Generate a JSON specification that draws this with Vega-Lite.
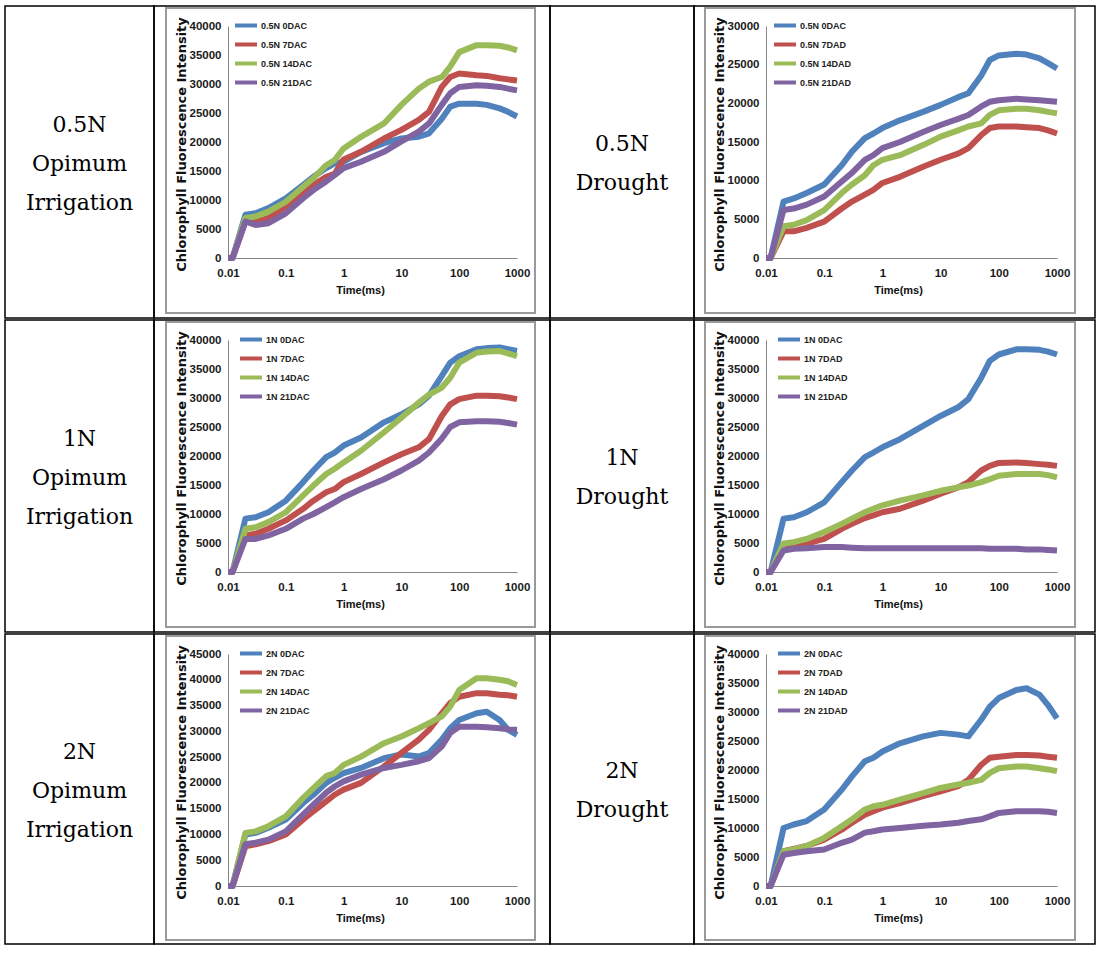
{
"$schema":"https://vega.github.io/schema/vega-lite/v6.json",
"padding":{"left":4,"top":5,"right":0,"bottom":0},
"background":"white",
"config":{
"view":{"stroke":"black","strokeWidth":1.5},
"axis":{"domainColor":"#868686","domainWidth":1,"ticks":false,"grid":false,"labelFont":"Liberation Sans, Arial, sans-serif","labelFontSize":11.5,"labelFontWeight":"bold","labelColor":"#1a1a1a","labelFlush":false,"labelOverlap":false,"labelBound":false,"titleFont":"Liberation Sans, Arial, sans-serif","titleFontSize":11,"titleFontWeight":"bold","titleColor":"#111111"},
"axisY":{"labelPadding":7,"titleFont":"DejaVu Sans","titleFontSize":13,"titleBaseline":"middle","titleAlign":"center"},
"axisX":{"labelPadding":9,"titleBaseline":"middle","titleAlign":"center"},
"legend":{"symbolType":"stroke","symbolStrokeWidth":4,"symbolSize":484,"labelFont":"Liberation Sans, Arial, sans-serif","labelFontSize":9,"labelFontWeight":"bold","labelColor":"#222222","rowPadding":0,"clipHeight":19,"padding":0,"labelOffset":2}
},
"datasets":{
"A":[
{"t":0.01,"v":0,"s":"0.5N 0DAC"},{"t":0.012,"v":0,"s":"0.5N 0DAC"},{"t":0.02,"v":7450,"s":"0.5N 0DAC"},{"t":0.03,"v":7700,"s":"0.5N 0DAC"},{"t":0.05,"v":8600,"s":"0.5N 0DAC"},{"t":0.1,"v":10300,"s":"0.5N 0DAC"},{"t":0.2,"v":12600,"s":"0.5N 0DAC"},{"t":0.3,"v":14000,"s":"0.5N 0DAC"},{"t":0.5,"v":15500,"s":"0.5N 0DAC"},{"t":0.7,"v":16300,"s":"0.5N 0DAC"},{"t":1,"v":16600,"s":"0.5N 0DAC"},{"t":2,"v":18300,"s":"0.5N 0DAC"},{"t":5,"v":19800,"s":"0.5N 0DAC"},{"t":10,"v":20600,"s":"0.5N 0DAC"},{"t":20,"v":20900,"s":"0.5N 0DAC"},{"t":30,"v":21500,"s":"0.5N 0DAC"},{"t":50,"v":24000,"s":"0.5N 0DAC"},{"t":70,"v":26100,"s":"0.5N 0DAC"},{"t":100,"v":26600,"s":"0.5N 0DAC"},{"t":200,"v":26600,"s":"0.5N 0DAC"},{"t":300,"v":26400,"s":"0.5N 0DAC"},{"t":500,"v":25800,"s":"0.5N 0DAC"},{"t":700,"v":25200,"s":"0.5N 0DAC"},{"t":1000,"v":24400,"s":"0.5N 0DAC"},
{"t":0.01,"v":0,"s":"0.5N 7DAC"},{"t":0.012,"v":0,"s":"0.5N 7DAC"},{"t":0.02,"v":6300,"s":"0.5N 7DAC"},{"t":0.03,"v":6200,"s":"0.5N 7DAC"},{"t":0.05,"v":6900,"s":"0.5N 7DAC"},{"t":0.1,"v":8900,"s":"0.5N 7DAC"},{"t":0.2,"v":11500,"s":"0.5N 7DAC"},{"t":0.3,"v":12600,"s":"0.5N 7DAC"},{"t":0.5,"v":14000,"s":"0.5N 7DAC"},{"t":0.7,"v":14500,"s":"0.5N 7DAC"},{"t":1,"v":17000,"s":"0.5N 7DAC"},{"t":2,"v":18300,"s":"0.5N 7DAC"},{"t":5,"v":20600,"s":"0.5N 7DAC"},{"t":10,"v":22100,"s":"0.5N 7DAC"},{"t":20,"v":23800,"s":"0.5N 7DAC"},{"t":30,"v":25200,"s":"0.5N 7DAC"},{"t":50,"v":29500,"s":"0.5N 7DAC"},{"t":70,"v":31200,"s":"0.5N 7DAC"},{"t":100,"v":31800,"s":"0.5N 7DAC"},{"t":200,"v":31500,"s":"0.5N 7DAC"},{"t":300,"v":31400,"s":"0.5N 7DAC"},{"t":500,"v":31000,"s":"0.5N 7DAC"},{"t":700,"v":30800,"s":"0.5N 7DAC"},{"t":1000,"v":30600,"s":"0.5N 7DAC"},
{"t":0.01,"v":0,"s":"0.5N 14DAC"},{"t":0.012,"v":0,"s":"0.5N 14DAC"},{"t":0.02,"v":6900,"s":"0.5N 14DAC"},{"t":0.03,"v":7150,"s":"0.5N 14DAC"},{"t":0.05,"v":8000,"s":"0.5N 14DAC"},{"t":0.1,"v":9700,"s":"0.5N 14DAC"},{"t":0.2,"v":12300,"s":"0.5N 14DAC"},{"t":0.3,"v":13750,"s":"0.5N 14DAC"},{"t":0.5,"v":16000,"s":"0.5N 14DAC"},{"t":0.7,"v":16900,"s":"0.5N 14DAC"},{"t":1,"v":18900,"s":"0.5N 14DAC"},{"t":2,"v":20900,"s":"0.5N 14DAC"},{"t":5,"v":23200,"s":"0.5N 14DAC"},{"t":10,"v":26400,"s":"0.5N 14DAC"},{"t":20,"v":29200,"s":"0.5N 14DAC"},{"t":30,"v":30400,"s":"0.5N 14DAC"},{"t":50,"v":31200,"s":"0.5N 14DAC"},{"t":70,"v":33000,"s":"0.5N 14DAC"},{"t":100,"v":35500,"s":"0.5N 14DAC"},{"t":200,"v":36700,"s":"0.5N 14DAC"},{"t":300,"v":36700,"s":"0.5N 14DAC"},{"t":500,"v":36600,"s":"0.5N 14DAC"},{"t":700,"v":36300,"s":"0.5N 14DAC"},{"t":1000,"v":35800,"s":"0.5N 14DAC"},
{"t":0.01,"v":0,"s":"0.5N 21DAC"},{"t":0.012,"v":0,"s":"0.5N 21DAC"},{"t":0.02,"v":6300,"s":"0.5N 21DAC"},{"t":0.03,"v":5700,"s":"0.5N 21DAC"},{"t":0.05,"v":6000,"s":"0.5N 21DAC"},{"t":0.1,"v":7700,"s":"0.5N 21DAC"},{"t":0.2,"v":10300,"s":"0.5N 21DAC"},{"t":0.3,"v":11700,"s":"0.5N 21DAC"},{"t":0.5,"v":13200,"s":"0.5N 21DAC"},{"t":0.7,"v":14300,"s":"0.5N 21DAC"},{"t":1,"v":15500,"s":"0.5N 21DAC"},{"t":2,"v":16600,"s":"0.5N 21DAC"},{"t":5,"v":18300,"s":"0.5N 21DAC"},{"t":10,"v":20100,"s":"0.5N 21DAC"},{"t":20,"v":21800,"s":"0.5N 21DAC"},{"t":30,"v":23200,"s":"0.5N 21DAC"},{"t":50,"v":26400,"s":"0.5N 21DAC"},{"t":70,"v":28400,"s":"0.5N 21DAC"},{"t":100,"v":29500,"s":"0.5N 21DAC"},{"t":200,"v":29800,"s":"0.5N 21DAC"},{"t":300,"v":29700,"s":"0.5N 21DAC"},{"t":500,"v":29500,"s":"0.5N 21DAC"},{"t":700,"v":29200,"s":"0.5N 21DAC"},{"t":1000,"v":28900,"s":"0.5N 21DAC"}
],
"B":[
{"t":0.01,"v":0,"s":"0.5N 0DAC"},{"t":0.012,"v":0,"s":"0.5N 0DAC"},{"t":0.02,"v":7300,"s":"0.5N 0DAC"},{"t":0.03,"v":7700,"s":"0.5N 0DAC"},{"t":0.05,"v":8400,"s":"0.5N 0DAC"},{"t":0.1,"v":9500,"s":"0.5N 0DAC"},{"t":0.2,"v":12000,"s":"0.5N 0DAC"},{"t":0.3,"v":13750,"s":"0.5N 0DAC"},{"t":0.5,"v":15500,"s":"0.5N 0DAC"},{"t":0.7,"v":16100,"s":"0.5N 0DAC"},{"t":1,"v":16800,"s":"0.5N 0DAC"},{"t":2,"v":17800,"s":"0.5N 0DAC"},{"t":5,"v":18900,"s":"0.5N 0DAC"},{"t":10,"v":19800,"s":"0.5N 0DAC"},{"t":20,"v":20800,"s":"0.5N 0DAC"},{"t":30,"v":21300,"s":"0.5N 0DAC"},{"t":50,"v":23600,"s":"0.5N 0DAC"},{"t":70,"v":25600,"s":"0.5N 0DAC"},{"t":100,"v":26200,"s":"0.5N 0DAC"},{"t":200,"v":26400,"s":"0.5N 0DAC"},{"t":300,"v":26300,"s":"0.5N 0DAC"},{"t":500,"v":25800,"s":"0.5N 0DAC"},{"t":700,"v":25200,"s":"0.5N 0DAC"},{"t":1000,"v":24500,"s":"0.5N 0DAC"},
{"t":0.01,"v":0,"s":"0.5N 7DAD"},{"t":0.012,"v":0,"s":"0.5N 7DAD"},{"t":0.02,"v":3450,"s":"0.5N 7DAD"},{"t":0.03,"v":3450,"s":"0.5N 7DAD"},{"t":0.05,"v":3900,"s":"0.5N 7DAD"},{"t":0.1,"v":4700,"s":"0.5N 7DAD"},{"t":0.2,"v":6400,"s":"0.5N 7DAD"},{"t":0.3,"v":7300,"s":"0.5N 7DAD"},{"t":0.5,"v":8200,"s":"0.5N 7DAD"},{"t":0.7,"v":8800,"s":"0.5N 7DAD"},{"t":1,"v":9700,"s":"0.5N 7DAD"},{"t":2,"v":10500,"s":"0.5N 7DAD"},{"t":5,"v":11800,"s":"0.5N 7DAD"},{"t":10,"v":12700,"s":"0.5N 7DAD"},{"t":20,"v":13500,"s":"0.5N 7DAD"},{"t":30,"v":14200,"s":"0.5N 7DAD"},{"t":50,"v":15900,"s":"0.5N 7DAD"},{"t":70,"v":16800,"s":"0.5N 7DAD"},{"t":100,"v":17000,"s":"0.5N 7DAD"},{"t":200,"v":17000,"s":"0.5N 7DAD"},{"t":300,"v":16900,"s":"0.5N 7DAD"},{"t":500,"v":16800,"s":"0.5N 7DAD"},{"t":700,"v":16500,"s":"0.5N 7DAD"},{"t":1000,"v":16100,"s":"0.5N 7DAD"},
{"t":0.01,"v":0,"s":"0.5N 14DAD"},{"t":0.012,"v":0,"s":"0.5N 14DAD"},{"t":0.02,"v":4100,"s":"0.5N 14DAD"},{"t":0.03,"v":4300,"s":"0.5N 14DAD"},{"t":0.05,"v":4900,"s":"0.5N 14DAD"},{"t":0.1,"v":6200,"s":"0.5N 14DAD"},{"t":0.2,"v":8400,"s":"0.5N 14DAD"},{"t":0.3,"v":9500,"s":"0.5N 14DAD"},{"t":0.5,"v":10700,"s":"0.5N 14DAD"},{"t":0.7,"v":12000,"s":"0.5N 14DAD"},{"t":1,"v":12700,"s":"0.5N 14DAD"},{"t":2,"v":13300,"s":"0.5N 14DAD"},{"t":5,"v":14600,"s":"0.5N 14DAD"},{"t":10,"v":15700,"s":"0.5N 14DAD"},{"t":20,"v":16500,"s":"0.5N 14DAD"},{"t":30,"v":17000,"s":"0.5N 14DAD"},{"t":50,"v":17400,"s":"0.5N 14DAD"},{"t":70,"v":18500,"s":"0.5N 14DAD"},{"t":100,"v":19100,"s":"0.5N 14DAD"},{"t":200,"v":19300,"s":"0.5N 14DAD"},{"t":300,"v":19300,"s":"0.5N 14DAD"},{"t":500,"v":19100,"s":"0.5N 14DAD"},{"t":700,"v":18900,"s":"0.5N 14DAD"},{"t":1000,"v":18700,"s":"0.5N 14DAD"},
{"t":0.01,"v":0,"s":"0.5N 21DAD"},{"t":0.012,"v":0,"s":"0.5N 21DAD"},{"t":0.02,"v":6200,"s":"0.5N 21DAD"},{"t":0.03,"v":6400,"s":"0.5N 21DAD"},{"t":0.05,"v":6900,"s":"0.5N 21DAD"},{"t":0.1,"v":7950,"s":"0.5N 21DAD"},{"t":0.2,"v":9900,"s":"0.5N 21DAD"},{"t":0.3,"v":11000,"s":"0.5N 21DAD"},{"t":0.5,"v":12700,"s":"0.5N 21DAD"},{"t":0.7,"v":13300,"s":"0.5N 21DAD"},{"t":1,"v":14200,"s":"0.5N 21DAD"},{"t":2,"v":15000,"s":"0.5N 21DAD"},{"t":5,"v":16300,"s":"0.5N 21DAD"},{"t":10,"v":17200,"s":"0.5N 21DAD"},{"t":20,"v":18000,"s":"0.5N 21DAD"},{"t":30,"v":18500,"s":"0.5N 21DAD"},{"t":50,"v":19600,"s":"0.5N 21DAD"},{"t":70,"v":20200,"s":"0.5N 21DAD"},{"t":100,"v":20400,"s":"0.5N 21DAD"},{"t":200,"v":20600,"s":"0.5N 21DAD"},{"t":300,"v":20500,"s":"0.5N 21DAD"},{"t":500,"v":20400,"s":"0.5N 21DAD"},{"t":700,"v":20300,"s":"0.5N 21DAD"},{"t":1000,"v":20200,"s":"0.5N 21DAD"}
],
"C":[
{"t":0.01,"v":0,"s":"1N 0DAC"},{"t":0.012,"v":0,"s":"1N 0DAC"},{"t":0.02,"v":9200,"s":"1N 0DAC"},{"t":0.03,"v":9450,"s":"1N 0DAC"},{"t":0.05,"v":10300,"s":"1N 0DAC"},{"t":0.1,"v":12300,"s":"1N 0DAC"},{"t":0.2,"v":15500,"s":"1N 0DAC"},{"t":0.3,"v":17500,"s":"1N 0DAC"},{"t":0.5,"v":19800,"s":"1N 0DAC"},{"t":0.7,"v":20600,"s":"1N 0DAC"},{"t":1,"v":21800,"s":"1N 0DAC"},{"t":2,"v":23200,"s":"1N 0DAC"},{"t":5,"v":25800,"s":"1N 0DAC"},{"t":10,"v":27200,"s":"1N 0DAC"},{"t":20,"v":28900,"s":"1N 0DAC"},{"t":30,"v":30400,"s":"1N 0DAC"},{"t":50,"v":33800,"s":"1N 0DAC"},{"t":70,"v":36100,"s":"1N 0DAC"},{"t":100,"v":37200,"s":"1N 0DAC"},{"t":200,"v":38400,"s":"1N 0DAC"},{"t":300,"v":38600,"s":"1N 0DAC"},{"t":500,"v":38700,"s":"1N 0DAC"},{"t":700,"v":38400,"s":"1N 0DAC"},{"t":1000,"v":38100,"s":"1N 0DAC"},
{"t":0.01,"v":0,"s":"1N 7DAC"},{"t":0.012,"v":0,"s":"1N 7DAC"},{"t":0.02,"v":6300,"s":"1N 7DAC"},{"t":0.03,"v":6600,"s":"1N 7DAC"},{"t":0.05,"v":7450,"s":"1N 7DAC"},{"t":0.1,"v":8900,"s":"1N 7DAC"},{"t":0.2,"v":10900,"s":"1N 7DAC"},{"t":0.3,"v":12300,"s":"1N 7DAC"},{"t":0.5,"v":13750,"s":"1N 7DAC"},{"t":0.7,"v":14300,"s":"1N 7DAC"},{"t":1,"v":15500,"s":"1N 7DAC"},{"t":2,"v":16900,"s":"1N 7DAC"},{"t":5,"v":18900,"s":"1N 7DAC"},{"t":10,"v":20300,"s":"1N 7DAC"},{"t":20,"v":21500,"s":"1N 7DAC"},{"t":30,"v":22900,"s":"1N 7DAC"},{"t":50,"v":26900,"s":"1N 7DAC"},{"t":70,"v":28900,"s":"1N 7DAC"},{"t":100,"v":29800,"s":"1N 7DAC"},{"t":200,"v":30400,"s":"1N 7DAC"},{"t":300,"v":30400,"s":"1N 7DAC"},{"t":500,"v":30300,"s":"1N 7DAC"},{"t":700,"v":30100,"s":"1N 7DAC"},{"t":1000,"v":29800,"s":"1N 7DAC"},
{"t":0.01,"v":0,"s":"1N 14DAC"},{"t":0.012,"v":0,"s":"1N 14DAC"},{"t":0.02,"v":7450,"s":"1N 14DAC"},{"t":0.03,"v":7700,"s":"1N 14DAC"},{"t":0.05,"v":8600,"s":"1N 14DAC"},{"t":0.1,"v":10300,"s":"1N 14DAC"},{"t":0.2,"v":13200,"s":"1N 14DAC"},{"t":0.3,"v":14900,"s":"1N 14DAC"},{"t":0.5,"v":16900,"s":"1N 14DAC"},{"t":0.7,"v":17800,"s":"1N 14DAC"},{"t":1,"v":18900,"s":"1N 14DAC"},{"t":2,"v":20900,"s":"1N 14DAC"},{"t":5,"v":24100,"s":"1N 14DAC"},{"t":10,"v":26600,"s":"1N 14DAC"},{"t":20,"v":29200,"s":"1N 14DAC"},{"t":30,"v":30600,"s":"1N 14DAC"},{"t":50,"v":31800,"s":"1N 14DAC"},{"t":70,"v":33500,"s":"1N 14DAC"},{"t":100,"v":36100,"s":"1N 14DAC"},{"t":200,"v":37800,"s":"1N 14DAC"},{"t":300,"v":38000,"s":"1N 14DAC"},{"t":500,"v":38100,"s":"1N 14DAC"},{"t":700,"v":37700,"s":"1N 14DAC"},{"t":1000,"v":37200,"s":"1N 14DAC"},
{"t":0.01,"v":0,"s":"1N 21DAC"},{"t":0.012,"v":0,"s":"1N 21DAC"},{"t":0.02,"v":5700,"s":"1N 21DAC"},{"t":0.03,"v":5700,"s":"1N 21DAC"},{"t":0.05,"v":6300,"s":"1N 21DAC"},{"t":0.1,"v":7450,"s":"1N 21DAC"},{"t":0.2,"v":9200,"s":"1N 21DAC"},{"t":0.3,"v":10000,"s":"1N 21DAC"},{"t":0.5,"v":11200,"s":"1N 21DAC"},{"t":0.7,"v":12000,"s":"1N 21DAC"},{"t":1,"v":12900,"s":"1N 21DAC"},{"t":2,"v":14300,"s":"1N 21DAC"},{"t":5,"v":16000,"s":"1N 21DAC"},{"t":10,"v":17500,"s":"1N 21DAC"},{"t":20,"v":19200,"s":"1N 21DAC"},{"t":30,"v":20600,"s":"1N 21DAC"},{"t":50,"v":23000,"s":"1N 21DAC"},{"t":70,"v":25000,"s":"1N 21DAC"},{"t":100,"v":25800,"s":"1N 21DAC"},{"t":200,"v":26000,"s":"1N 21DAC"},{"t":300,"v":26000,"s":"1N 21DAC"},{"t":500,"v":25900,"s":"1N 21DAC"},{"t":700,"v":25700,"s":"1N 21DAC"},{"t":1000,"v":25400,"s":"1N 21DAC"}
],
"D":[
{"t":0.01,"v":0,"s":"1N 0DAC"},{"t":0.012,"v":0,"s":"1N 0DAC"},{"t":0.02,"v":9200,"s":"1N 0DAC"},{"t":0.03,"v":9450,"s":"1N 0DAC"},{"t":0.05,"v":10300,"s":"1N 0DAC"},{"t":0.1,"v":12000,"s":"1N 0DAC"},{"t":0.2,"v":15500,"s":"1N 0DAC"},{"t":0.3,"v":17500,"s":"1N 0DAC"},{"t":0.5,"v":19800,"s":"1N 0DAC"},{"t":0.7,"v":20600,"s":"1N 0DAC"},{"t":1,"v":21500,"s":"1N 0DAC"},{"t":2,"v":22900,"s":"1N 0DAC"},{"t":5,"v":25200,"s":"1N 0DAC"},{"t":10,"v":26900,"s":"1N 0DAC"},{"t":20,"v":28400,"s":"1N 0DAC"},{"t":30,"v":29800,"s":"1N 0DAC"},{"t":50,"v":33500,"s":"1N 0DAC"},{"t":70,"v":36400,"s":"1N 0DAC"},{"t":100,"v":37500,"s":"1N 0DAC"},{"t":200,"v":38400,"s":"1N 0DAC"},{"t":300,"v":38400,"s":"1N 0DAC"},{"t":500,"v":38300,"s":"1N 0DAC"},{"t":700,"v":38000,"s":"1N 0DAC"},{"t":1000,"v":37500,"s":"1N 0DAC"},
{"t":0.01,"v":0,"s":"1N 7DAD"},{"t":0.012,"v":0,"s":"1N 7DAD"},{"t":0.02,"v":4600,"s":"1N 7DAD"},{"t":0.03,"v":4500,"s":"1N 7DAD"},{"t":0.05,"v":4900,"s":"1N 7DAD"},{"t":0.1,"v":5700,"s":"1N 7DAD"},{"t":0.2,"v":7450,"s":"1N 7DAD"},{"t":0.3,"v":8300,"s":"1N 7DAD"},{"t":0.5,"v":9300,"s":"1N 7DAD"},{"t":0.7,"v":9750,"s":"1N 7DAD"},{"t":1,"v":10300,"s":"1N 7DAD"},{"t":2,"v":10900,"s":"1N 7DAD"},{"t":5,"v":12300,"s":"1N 7DAD"},{"t":10,"v":13500,"s":"1N 7DAD"},{"t":20,"v":14600,"s":"1N 7DAD"},{"t":30,"v":15500,"s":"1N 7DAD"},{"t":50,"v":17500,"s":"1N 7DAD"},{"t":70,"v":18300,"s":"1N 7DAD"},{"t":100,"v":18800,"s":"1N 7DAD"},{"t":200,"v":18900,"s":"1N 7DAD"},{"t":300,"v":18800,"s":"1N 7DAD"},{"t":500,"v":18600,"s":"1N 7DAD"},{"t":700,"v":18500,"s":"1N 7DAD"},{"t":1000,"v":18300,"s":"1N 7DAD"},
{"t":0.01,"v":0,"s":"1N 14DAD"},{"t":0.012,"v":0,"s":"1N 14DAD"},{"t":0.02,"v":4900,"s":"1N 14DAD"},{"t":0.03,"v":5150,"s":"1N 14DAD"},{"t":0.05,"v":5700,"s":"1N 14DAD"},{"t":0.1,"v":6900,"s":"1N 14DAD"},{"t":0.2,"v":8300,"s":"1N 14DAD"},{"t":0.3,"v":9200,"s":"1N 14DAD"},{"t":0.5,"v":10300,"s":"1N 14DAD"},{"t":0.7,"v":10900,"s":"1N 14DAD"},{"t":1,"v":11500,"s":"1N 14DAD"},{"t":2,"v":12300,"s":"1N 14DAD"},{"t":5,"v":13200,"s":"1N 14DAD"},{"t":10,"v":14000,"s":"1N 14DAD"},{"t":20,"v":14600,"s":"1N 14DAD"},{"t":30,"v":14900,"s":"1N 14DAD"},{"t":50,"v":15500,"s":"1N 14DAD"},{"t":70,"v":16000,"s":"1N 14DAD"},{"t":100,"v":16600,"s":"1N 14DAD"},{"t":200,"v":16900,"s":"1N 14DAD"},{"t":300,"v":16900,"s":"1N 14DAD"},{"t":500,"v":16900,"s":"1N 14DAD"},{"t":700,"v":16700,"s":"1N 14DAD"},{"t":1000,"v":16300,"s":"1N 14DAD"},
{"t":0.01,"v":0,"s":"1N 21DAD"},{"t":0.012,"v":0,"s":"1N 21DAD"},{"t":0.02,"v":3700,"s":"1N 21DAD"},{"t":0.03,"v":4000,"s":"1N 21DAD"},{"t":0.05,"v":4100,"s":"1N 21DAD"},{"t":0.1,"v":4300,"s":"1N 21DAD"},{"t":0.2,"v":4300,"s":"1N 21DAD"},{"t":0.3,"v":4200,"s":"1N 21DAD"},{"t":0.5,"v":4100,"s":"1N 21DAD"},{"t":0.7,"v":4100,"s":"1N 21DAD"},{"t":1,"v":4100,"s":"1N 21DAD"},{"t":2,"v":4100,"s":"1N 21DAD"},{"t":5,"v":4100,"s":"1N 21DAD"},{"t":10,"v":4100,"s":"1N 21DAD"},{"t":20,"v":4100,"s":"1N 21DAD"},{"t":30,"v":4100,"s":"1N 21DAD"},{"t":50,"v":4100,"s":"1N 21DAD"},{"t":70,"v":4000,"s":"1N 21DAD"},{"t":100,"v":4000,"s":"1N 21DAD"},{"t":200,"v":4000,"s":"1N 21DAD"},{"t":300,"v":3900,"s":"1N 21DAD"},{"t":500,"v":3900,"s":"1N 21DAD"},{"t":700,"v":3800,"s":"1N 21DAD"},{"t":1000,"v":3700,"s":"1N 21DAD"}
],
"E":[
{"t":0.01,"v":0,"s":"2N 0DAC"},{"t":0.012,"v":0,"s":"2N 0DAC"},{"t":0.02,"v":10000,"s":"2N 0DAC"},{"t":0.03,"v":10300,"s":"2N 0DAC"},{"t":0.05,"v":11300,"s":"2N 0DAC"},{"t":0.1,"v":12900,"s":"2N 0DAC"},{"t":0.2,"v":16100,"s":"2N 0DAC"},{"t":0.3,"v":17700,"s":"2N 0DAC"},{"t":0.5,"v":20000,"s":"2N 0DAC"},{"t":0.7,"v":21000,"s":"2N 0DAC"},{"t":1,"v":21900,"s":"2N 0DAC"},{"t":2,"v":22900,"s":"2N 0DAC"},{"t":5,"v":24800,"s":"2N 0DAC"},{"t":10,"v":25500,"s":"2N 0DAC"},{"t":20,"v":25100,"s":"2N 0DAC"},{"t":30,"v":25800,"s":"2N 0DAC"},{"t":50,"v":28400,"s":"2N 0DAC"},{"t":70,"v":30600,"s":"2N 0DAC"},{"t":100,"v":32200,"s":"2N 0DAC"},{"t":200,"v":33500,"s":"2N 0DAC"},{"t":300,"v":33800,"s":"2N 0DAC"},{"t":500,"v":32200,"s":"2N 0DAC"},{"t":700,"v":30300,"s":"2N 0DAC"},{"t":1000,"v":29300,"s":"2N 0DAC"},
{"t":0.01,"v":0,"s":"2N 7DAC"},{"t":0.012,"v":0,"s":"2N 7DAC"},{"t":0.02,"v":7700,"s":"2N 7DAC"},{"t":0.03,"v":8100,"s":"2N 7DAC"},{"t":0.05,"v":8700,"s":"2N 7DAC"},{"t":0.1,"v":10000,"s":"2N 7DAC"},{"t":0.2,"v":12900,"s":"2N 7DAC"},{"t":0.3,"v":14500,"s":"2N 7DAC"},{"t":0.5,"v":16400,"s":"2N 7DAC"},{"t":0.7,"v":17700,"s":"2N 7DAC"},{"t":1,"v":18700,"s":"2N 7DAC"},{"t":2,"v":20000,"s":"2N 7DAC"},{"t":5,"v":23200,"s":"2N 7DAC"},{"t":10,"v":25800,"s":"2N 7DAC"},{"t":20,"v":28400,"s":"2N 7DAC"},{"t":30,"v":30300,"s":"2N 7DAC"},{"t":50,"v":33500,"s":"2N 7DAC"},{"t":70,"v":35500,"s":"2N 7DAC"},{"t":100,"v":36700,"s":"2N 7DAC"},{"t":200,"v":37400,"s":"2N 7DAC"},{"t":300,"v":37400,"s":"2N 7DAC"},{"t":500,"v":37100,"s":"2N 7DAC"},{"t":700,"v":37000,"s":"2N 7DAC"},{"t":1000,"v":36700,"s":"2N 7DAC"},
{"t":0.01,"v":0,"s":"2N 14DAC"},{"t":0.012,"v":0,"s":"2N 14DAC"},{"t":0.02,"v":10300,"s":"2N 14DAC"},{"t":0.03,"v":10600,"s":"2N 14DAC"},{"t":0.05,"v":11600,"s":"2N 14DAC"},{"t":0.1,"v":13500,"s":"2N 14DAC"},{"t":0.2,"v":17100,"s":"2N 14DAC"},{"t":0.3,"v":19000,"s":"2N 14DAC"},{"t":0.5,"v":21300,"s":"2N 14DAC"},{"t":0.7,"v":21900,"s":"2N 14DAC"},{"t":1,"v":23500,"s":"2N 14DAC"},{"t":2,"v":25100,"s":"2N 14DAC"},{"t":5,"v":27700,"s":"2N 14DAC"},{"t":10,"v":29000,"s":"2N 14DAC"},{"t":20,"v":30600,"s":"2N 14DAC"},{"t":30,"v":31600,"s":"2N 14DAC"},{"t":50,"v":32900,"s":"2N 14DAC"},{"t":70,"v":34800,"s":"2N 14DAC"},{"t":100,"v":38000,"s":"2N 14DAC"},{"t":200,"v":40300,"s":"2N 14DAC"},{"t":300,"v":40300,"s":"2N 14DAC"},{"t":500,"v":40000,"s":"2N 14DAC"},{"t":700,"v":39700,"s":"2N 14DAC"},{"t":1000,"v":39000,"s":"2N 14DAC"},
{"t":0.01,"v":0,"s":"2N 21DAC"},{"t":0.012,"v":0,"s":"2N 21DAC"},{"t":0.02,"v":8100,"s":"2N 21DAC"},{"t":0.03,"v":8400,"s":"2N 21DAC"},{"t":0.05,"v":9000,"s":"2N 21DAC"},{"t":0.1,"v":10600,"s":"2N 21DAC"},{"t":0.2,"v":13900,"s":"2N 21DAC"},{"t":0.3,"v":15800,"s":"2N 21DAC"},{"t":0.5,"v":18100,"s":"2N 21DAC"},{"t":0.7,"v":19300,"s":"2N 21DAC"},{"t":1,"v":20300,"s":"2N 21DAC"},{"t":2,"v":21600,"s":"2N 21DAC"},{"t":5,"v":22900,"s":"2N 21DAC"},{"t":10,"v":23500,"s":"2N 21DAC"},{"t":20,"v":24200,"s":"2N 21DAC"},{"t":30,"v":24800,"s":"2N 21DAC"},{"t":50,"v":27100,"s":"2N 21DAC"},{"t":70,"v":29700,"s":"2N 21DAC"},{"t":100,"v":30900,"s":"2N 21DAC"},{"t":200,"v":30900,"s":"2N 21DAC"},{"t":300,"v":30800,"s":"2N 21DAC"},{"t":500,"v":30600,"s":"2N 21DAC"},{"t":700,"v":30400,"s":"2N 21DAC"},{"t":1000,"v":30300,"s":"2N 21DAC"}
],
"F":[
{"t":0.01,"v":0,"s":"2N 0DAC"},{"t":0.012,"v":0,"s":"2N 0DAC"},{"t":0.02,"v":10000,"s":"2N 0DAC"},{"t":0.03,"v":10600,"s":"2N 0DAC"},{"t":0.05,"v":11200,"s":"2N 0DAC"},{"t":0.1,"v":13200,"s":"2N 0DAC"},{"t":0.2,"v":16600,"s":"2N 0DAC"},{"t":0.3,"v":18900,"s":"2N 0DAC"},{"t":0.5,"v":21500,"s":"2N 0DAC"},{"t":0.7,"v":22100,"s":"2N 0DAC"},{"t":1,"v":23200,"s":"2N 0DAC"},{"t":2,"v":24600,"s":"2N 0DAC"},{"t":5,"v":25800,"s":"2N 0DAC"},{"t":10,"v":26400,"s":"2N 0DAC"},{"t":20,"v":26100,"s":"2N 0DAC"},{"t":30,"v":25800,"s":"2N 0DAC"},{"t":50,"v":28700,"s":"2N 0DAC"},{"t":70,"v":30900,"s":"2N 0DAC"},{"t":100,"v":32400,"s":"2N 0DAC"},{"t":200,"v":33800,"s":"2N 0DAC"},{"t":300,"v":34100,"s":"2N 0DAC"},{"t":500,"v":33000,"s":"2N 0DAC"},{"t":700,"v":31200,"s":"2N 0DAC"},{"t":1000,"v":28900,"s":"2N 0DAC"},
{"t":0.01,"v":0,"s":"2N 7DAD"},{"t":0.012,"v":0,"s":"2N 7DAD"},{"t":0.02,"v":6000,"s":"2N 7DAD"},{"t":0.03,"v":6400,"s":"2N 7DAD"},{"t":0.05,"v":6900,"s":"2N 7DAD"},{"t":0.1,"v":8000,"s":"2N 7DAD"},{"t":0.2,"v":9700,"s":"2N 7DAD"},{"t":0.3,"v":10900,"s":"2N 7DAD"},{"t":0.5,"v":12300,"s":"2N 7DAD"},{"t":0.7,"v":12900,"s":"2N 7DAD"},{"t":1,"v":13500,"s":"2N 7DAD"},{"t":2,"v":14300,"s":"2N 7DAD"},{"t":5,"v":15500,"s":"2N 7DAD"},{"t":10,"v":16300,"s":"2N 7DAD"},{"t":20,"v":17200,"s":"2N 7DAD"},{"t":30,"v":18300,"s":"2N 7DAD"},{"t":50,"v":20900,"s":"2N 7DAD"},{"t":70,"v":22100,"s":"2N 7DAD"},{"t":100,"v":22300,"s":"2N 7DAD"},{"t":200,"v":22600,"s":"2N 7DAD"},{"t":300,"v":22600,"s":"2N 7DAD"},{"t":500,"v":22500,"s":"2N 7DAD"},{"t":700,"v":22300,"s":"2N 7DAD"},{"t":1000,"v":22100,"s":"2N 7DAD"},
{"t":0.01,"v":0,"s":"2N 14DAD"},{"t":0.012,"v":0,"s":"2N 14DAD"},{"t":0.02,"v":6000,"s":"2N 14DAD"},{"t":0.03,"v":6300,"s":"2N 14DAD"},{"t":0.05,"v":6900,"s":"2N 14DAD"},{"t":0.1,"v":8300,"s":"2N 14DAD"},{"t":0.2,"v":10300,"s":"2N 14DAD"},{"t":0.3,"v":11500,"s":"2N 14DAD"},{"t":0.5,"v":13200,"s":"2N 14DAD"},{"t":0.7,"v":13750,"s":"2N 14DAD"},{"t":1,"v":14000,"s":"2N 14DAD"},{"t":2,"v":14900,"s":"2N 14DAD"},{"t":5,"v":16000,"s":"2N 14DAD"},{"t":10,"v":16900,"s":"2N 14DAD"},{"t":20,"v":17500,"s":"2N 14DAD"},{"t":30,"v":17800,"s":"2N 14DAD"},{"t":50,"v":18300,"s":"2N 14DAD"},{"t":70,"v":19500,"s":"2N 14DAD"},{"t":100,"v":20300,"s":"2N 14DAD"},{"t":200,"v":20600,"s":"2N 14DAD"},{"t":300,"v":20600,"s":"2N 14DAD"},{"t":500,"v":20300,"s":"2N 14DAD"},{"t":700,"v":20100,"s":"2N 14DAD"},{"t":1000,"v":19800,"s":"2N 14DAD"},
{"t":0.01,"v":0,"s":"2N 21DAD"},{"t":0.012,"v":0,"s":"2N 21DAD"},{"t":0.02,"v":5400,"s":"2N 21DAD"},{"t":0.03,"v":5700,"s":"2N 21DAD"},{"t":0.05,"v":6000,"s":"2N 21DAD"},{"t":0.1,"v":6300,"s":"2N 21DAD"},{"t":0.2,"v":7450,"s":"2N 21DAD"},{"t":0.3,"v":8000,"s":"2N 21DAD"},{"t":0.5,"v":9200,"s":"2N 21DAD"},{"t":0.7,"v":9450,"s":"2N 21DAD"},{"t":1,"v":9750,"s":"2N 21DAD"},{"t":2,"v":10000,"s":"2N 21DAD"},{"t":5,"v":10400,"s":"2N 21DAD"},{"t":10,"v":10600,"s":"2N 21DAD"},{"t":20,"v":10900,"s":"2N 21DAD"},{"t":30,"v":11200,"s":"2N 21DAD"},{"t":50,"v":11500,"s":"2N 21DAD"},{"t":70,"v":12000,"s":"2N 21DAD"},{"t":100,"v":12600,"s":"2N 21DAD"},{"t":200,"v":12900,"s":"2N 21DAD"},{"t":300,"v":12900,"s":"2N 21DAD"},{"t":500,"v":12900,"s":"2N 21DAD"},{"t":700,"v":12800,"s":"2N 21DAD"},{"t":1000,"v":12600,"s":"2N 21DAD"}
]
},
"spacing":0,
"resolve":{"scale":{"color":"independent"},"legend":{"color":"independent"}},
"vconcat":[
{"spacing":0,"bounds":"flush","resolve":{"scale":{"color":"independent"},"legend":{"color":"independent"}},
"hconcat":[
{"width":149,"height":312,"view":{"stroke":"black","strokeWidth":1.5},"data":{"values":[{"label":"0.5N\nOpimum\nIrrigation"}]},"mark":{"type":"text","font":"DejaVu Serif","fontSize":22,"lineHeight":39,"lineBreak":"\n","color":"black","dy":-37},"encoding":{"text":{"field":"label"}}},
{"width":396,"height":312,"layer":[
{"data":{"values":[{"frame":1}]},"mark":{"type":"rect","fill":"transparent","stroke":"#9a9a9a","strokeWidth":2},"encoding":{"x":{"datum":0,"type":"quantitative","scale":{"domain":[0,1],"range":[12,381],"nice":false,"zero":false},"axis":null},"x2":{"datum":1},"y":{"datum":0,"type":"quantitative","scale":{"domain":[0,1],"range":[307,2],"nice":false,"zero":false},"axis":null},"y2":{"datum":1}}},
{"data":{"name":"A"},"mark":{"type":"line","strokeWidth":6,"strokeJoin":"round"},"encoding":{
"x":{"field":"t","type":"quantitative","scale":{"type":"log","domain":[0.01,1000],"range":[74,363],"nice":false},"axis":{"orient":"bottom","offset":-60,"values":[0.01,0.1,1,10,100,1000],"format":"~g","title":"Time(ms)","titleX":206,"titleY":32}},
"y":{"field":"v","type":"quantitative","scale":{"domain":[0,40000],"range":[252,20],"nice":false},"axis":{"orient":"left","offset":-74,"values":[0,5000,10000,15000,20000,25000,30000,35000,40000],"format":"d","title":"Chlorophyll Fluorescence Intensity","titleX":-47,"titleY":138}},
"color":{"field":"s","type":"nominal","scale":{"domain":["0.5N 0DAC","0.5N 7DAC","0.5N 14DAC","0.5N 21DAC"],"range":["#4F81BD","#C0504D","#9BBB59","#8064A2"]},"legend":{"title":null,"orient":"none","legendX":79,"legendY":10}}}}
],"resolve":{"scale":{"x":"independent","y":"independent"},"axis":{"x":"independent","y":"independent"}}},
{"width":144,"height":312,"view":{"stroke":"black","strokeWidth":1.5},"data":{"values":[{"label":"0.5N\nDrought"}]},"mark":{"type":"text","font":"DejaVu Serif","fontSize":22,"lineHeight":39,"lineBreak":"\n","color":"black","dy":-18},"encoding":{"text":{"field":"label"}}},
{"width":401,"height":312,"layer":[
{"data":{"values":[{"frame":1}]},"mark":{"type":"rect","fill":"transparent","stroke":"#9a9a9a","strokeWidth":2},"encoding":{"x":{"datum":0,"type":"quantitative","scale":{"domain":[0,1],"range":[11,381],"nice":false,"zero":false},"axis":null},"x2":{"datum":1},"y":{"datum":0,"type":"quantitative","scale":{"domain":[0,1],"range":[307,2],"nice":false,"zero":false},"axis":null},"y2":{"datum":1}}},
{"data":{"name":"B"},"mark":{"type":"line","strokeWidth":6,"strokeJoin":"round"},"encoding":{
"x":{"field":"t","type":"quantitative","scale":{"type":"log","domain":[0.01,1000],"range":[72,363],"nice":false},"axis":{"orient":"bottom","offset":-60,"values":[0.01,0.1,1,10,100,1000],"format":"~g","title":"Time(ms)","titleX":204,"titleY":32}},
"y":{"field":"v","type":"quantitative","scale":{"domain":[0,30000],"range":[252,20],"nice":false},"axis":{"orient":"left","offset":-72,"values":[0,5000,10000,15000,20000,25000,30000],"format":"d","title":"Chlorophyll Fluorescence Intensity","titleX":-47,"titleY":138}},
"color":{"field":"s","type":"nominal","scale":{"domain":["0.5N 0DAC","0.5N 7DAD","0.5N 14DAD","0.5N 21DAD"],"range":["#4F81BD","#C0504D","#9BBB59","#8064A2"]},"legend":{"title":null,"orient":"none","legendX":78,"legendY":10}}}}
],"resolve":{"scale":{"x":"independent","y":"independent"},"axis":{"x":"independent","y":"independent"}}}
]},
{"spacing":0,"bounds":"flush","resolve":{"scale":{"color":"independent"},"legend":{"color":"independent"}},
"hconcat":[
{"width":149,"height":312,"view":{"stroke":"black","strokeWidth":1.5},"data":{"values":[{"label":"1N\nOpimum\nIrrigation"}]},"mark":{"type":"text","font":"DejaVu Serif","fontSize":22,"lineHeight":39,"lineBreak":"\n","color":"black","dy":-37},"encoding":{"text":{"field":"label"}}},
{"width":396,"height":312,"layer":[
{"data":{"values":[{"frame":1}]},"mark":{"type":"rect","fill":"transparent","stroke":"#9a9a9a","strokeWidth":2},"encoding":{"x":{"datum":0,"type":"quantitative","scale":{"domain":[0,1],"range":[12,381],"nice":false,"zero":false},"axis":null},"x2":{"datum":1},"y":{"datum":0,"type":"quantitative","scale":{"domain":[0,1],"range":[307,2],"nice":false,"zero":false},"axis":null},"y2":{"datum":1}}},
{"data":{"name":"C"},"mark":{"type":"line","strokeWidth":6,"strokeJoin":"round"},"encoding":{
"x":{"field":"t","type":"quantitative","scale":{"type":"log","domain":[0.01,1000],"range":[74,363],"nice":false},"axis":{"orient":"bottom","offset":-60,"values":[0.01,0.1,1,10,100,1000],"format":"~g","title":"Time(ms)","titleX":206,"titleY":32}},
"y":{"field":"v","type":"quantitative","scale":{"domain":[0,40000],"range":[252,20],"nice":false},"axis":{"orient":"left","offset":-74,"values":[0,5000,10000,15000,20000,25000,30000,35000,40000],"format":"d","title":"Chlorophyll Fluorescence Intensity","titleX":-47,"titleY":138}},
"color":{"field":"s","type":"nominal","scale":{"domain":["1N 0DAC","1N 7DAC","1N 14DAC","1N 21DAC"],"range":["#4F81BD","#C0504D","#9BBB59","#8064A2"]},"legend":{"title":null,"orient":"none","legendX":84,"legendY":10}}}}
],"resolve":{"scale":{"x":"independent","y":"independent"},"axis":{"x":"independent","y":"independent"}}},
{"width":144,"height":312,"view":{"stroke":"black","strokeWidth":1.5},"data":{"values":[{"label":"1N\nDrought"}]},"mark":{"type":"text","font":"DejaVu Serif","fontSize":22,"lineHeight":39,"lineBreak":"\n","color":"black","dy":-18},"encoding":{"text":{"field":"label"}}},
{"width":401,"height":312,"layer":[
{"data":{"values":[{"frame":1}]},"mark":{"type":"rect","fill":"transparent","stroke":"#9a9a9a","strokeWidth":2},"encoding":{"x":{"datum":0,"type":"quantitative","scale":{"domain":[0,1],"range":[11,381],"nice":false,"zero":false},"axis":null},"x2":{"datum":1},"y":{"datum":0,"type":"quantitative","scale":{"domain":[0,1],"range":[307,2],"nice":false,"zero":false},"axis":null},"y2":{"datum":1}}},
{"data":{"name":"D"},"mark":{"type":"line","strokeWidth":6,"strokeJoin":"round"},"encoding":{
"x":{"field":"t","type":"quantitative","scale":{"type":"log","domain":[0.01,1000],"range":[72,363],"nice":false},"axis":{"orient":"bottom","offset":-60,"values":[0.01,0.1,1,10,100,1000],"format":"~g","title":"Time(ms)","titleX":204,"titleY":32}},
"y":{"field":"v","type":"quantitative","scale":{"domain":[0,40000],"range":[252,20],"nice":false},"axis":{"orient":"left","offset":-72,"values":[0,5000,10000,15000,20000,25000,30000,35000,40000],"format":"d","title":"Chlorophyll Fluorescence Intensity","titleX":-47,"titleY":138}},
"color":{"field":"s","type":"nominal","scale":{"domain":["1N 0DAC","1N 7DAD","1N 14DAD","1N 21DAD"],"range":["#4F81BD","#C0504D","#9BBB59","#8064A2"]},"legend":{"title":null,"orient":"none","legendX":82,"legendY":10}}}}
],"resolve":{"scale":{"x":"independent","y":"independent"},"axis":{"x":"independent","y":"independent"}}}
]},
{"spacing":0,"bounds":"flush","resolve":{"scale":{"color":"independent"},"legend":{"color":"independent"}},
"hconcat":[
{"width":149,"height":310,"view":{"stroke":"black","strokeWidth":1.5},"data":{"values":[{"label":"2N\nOpimum\nIrrigation"}]},"mark":{"type":"text","font":"DejaVu Serif","fontSize":22,"lineHeight":39,"lineBreak":"\n","color":"black","dy":-37},"encoding":{"text":{"field":"label"}}},
{"width":396,"height":310,"layer":[
{"data":{"values":[{"frame":1}]},"mark":{"type":"rect","fill":"transparent","stroke":"#9a9a9a","strokeWidth":2},"encoding":{"x":{"datum":0,"type":"quantitative","scale":{"domain":[0,1],"range":[12,381],"nice":false,"zero":false},"axis":null},"x2":{"datum":1},"y":{"datum":0,"type":"quantitative","scale":{"domain":[0,1],"range":[306,2],"nice":false,"zero":false},"axis":null},"y2":{"datum":1}}},
{"data":{"name":"E"},"mark":{"type":"line","strokeWidth":6,"strokeJoin":"round"},"encoding":{
"x":{"field":"t","type":"quantitative","scale":{"type":"log","domain":[0.01,1000],"range":[74,363],"nice":false},"axis":{"orient":"bottom","offset":-58,"values":[0.01,0.1,1,10,100,1000],"format":"~g","title":"Time(ms)","titleX":206,"titleY":32}},
"y":{"field":"v","type":"quantitative","scale":{"domain":[0,45000],"range":[252,20],"nice":false},"axis":{"orient":"left","offset":-74,"values":[0,5000,10000,15000,20000,25000,30000,35000,40000,45000],"format":"d","title":"Chlorophyll Fluorescence Intensity","titleX":-47,"titleY":138}},
"color":{"field":"s","type":"nominal","scale":{"domain":["2N 0DAC","2N 7DAC","2N 14DAC","2N 21DAC"],"range":["#4F81BD","#C0504D","#9BBB59","#8064A2"]},"legend":{"title":null,"orient":"none","legendX":84,"legendY":10}}}}
],"resolve":{"scale":{"x":"independent","y":"independent"},"axis":{"x":"independent","y":"independent"}}},
{"width":144,"height":310,"view":{"stroke":"black","strokeWidth":1.5},"data":{"values":[{"label":"2N\nDrought"}]},"mark":{"type":"text","font":"DejaVu Serif","fontSize":22,"lineHeight":39,"lineBreak":"\n","color":"black","dy":-18},"encoding":{"text":{"field":"label"}}},
{"width":401,"height":310,"layer":[
{"data":{"values":[{"frame":1}]},"mark":{"type":"rect","fill":"transparent","stroke":"#9a9a9a","strokeWidth":2},"encoding":{"x":{"datum":0,"type":"quantitative","scale":{"domain":[0,1],"range":[11,381],"nice":false,"zero":false},"axis":null},"x2":{"datum":1},"y":{"datum":0,"type":"quantitative","scale":{"domain":[0,1],"range":[306,2],"nice":false,"zero":false},"axis":null},"y2":{"datum":1}}},
{"data":{"name":"F"},"mark":{"type":"line","strokeWidth":6,"strokeJoin":"round"},"encoding":{
"x":{"field":"t","type":"quantitative","scale":{"type":"log","domain":[0.01,1000],"range":[72,363],"nice":false},"axis":{"orient":"bottom","offset":-58,"values":[0.01,0.1,1,10,100,1000],"format":"~g","title":"Time(ms)","titleX":204,"titleY":32}},
"y":{"field":"v","type":"quantitative","scale":{"domain":[0,40000],"range":[252,20],"nice":false},"axis":{"orient":"left","offset":-72,"values":[0,5000,10000,15000,20000,25000,30000,35000,40000],"format":"d","title":"Chlorophyll Fluorescence Intensity","titleX":-47,"titleY":138}},
"color":{"field":"s","type":"nominal","scale":{"domain":["2N 0DAC","2N 7DAD","2N 14DAD","2N 21DAD"],"range":["#4F81BD","#C0504D","#9BBB59","#8064A2"]},"legend":{"title":null,"orient":"none","legendX":82,"legendY":10}}}}
],"resolve":{"scale":{"x":"independent","y":"independent"},"axis":{"x":"independent","y":"independent"}}}
]}
]
}
